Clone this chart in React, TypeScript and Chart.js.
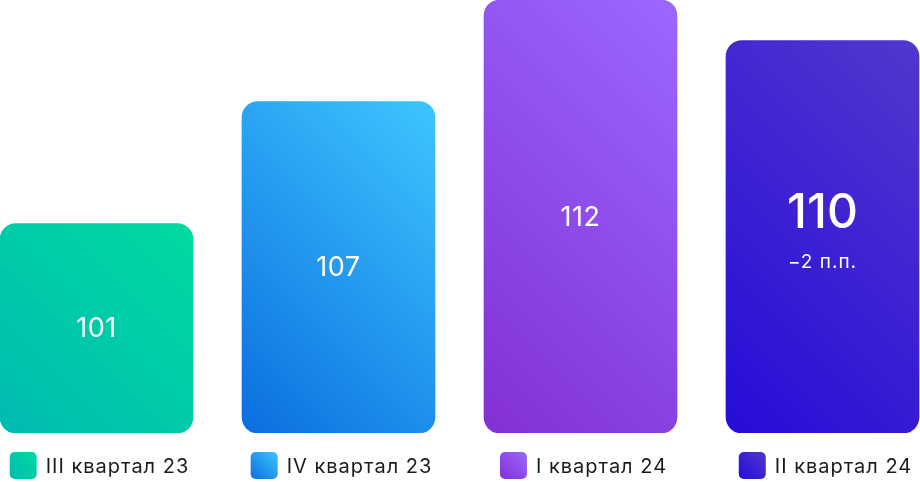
import React, { useEffect, useRef } from "react";
import { Chart, registerables } from "chart.js";

Chart.register(...registerables);

const categories = ["III квартал 23", "IV квартал 23", "I квартал 24", "II квартал 24"];
const values = [101, 107, 112, 110];
const notes = ["", "", "", "−2 п.п."];
const highlight = [false, false, false, true];
const gradientStops: [string, string][] = [
  ["#00BBB1", "#00DAA0"],
  ["#0B6EDF", "#3EC6FF"],
  ["#8230D5", "#9B68FF"],
  ["#260CD7", "#5137CD"],
];

const FONT = "Inter, 'Noto Sans', sans-serif";
const BAR_W = 193;
const STEP = 242;
const Y_MIN = 90.7;
const Y_MAX = 112;

// 45° gradient (bottom-left dark -> top-right light) across a box
function makeGrad(ctx: CanvasRenderingContext2D, left: number, top: number, w: number, h: number, i: number) {
  const cx = left + w / 2;
  const cy = top + h / 2;
  const d = (w + h) / 4;
  const g = ctx.createLinearGradient(cx - d, cy + d, cx + d, cy - d);
  g.addColorStop(0, gradientStops[i][0]);
  g.addColorStop(1, gradientStops[i][1]);
  return g;
}

const labelsPlugin = {
  id: "barLabels",
  afterDatasetsDraw(chart: any) {
    const ctx = chart.ctx as CanvasRenderingContext2D;
    const meta = chart.getDatasetMeta(0);
    ctx.save();
    ctx.fillStyle = "#ffffff";
    ctx.textAlign = "center";
    ctx.textBaseline = "middle";
    meta.data.forEach((el: any, i: number) => {
      const cx = el.x;
      const cy = (el.y + el.base) / 2;
      if (highlight[i]) {
        (ctx as any).letterSpacing = "0px";
        ctx.font = `500 48px ${FONT}`;
        ctx.fillText(String(values[i]), cx, cy - 23);
        (ctx as any).letterSpacing = "1px";
        ctx.font = `400 19px ${FONT}`;
        ctx.fillText(notes[i], cx, cy + 25);
      } else {
        (ctx as any).letterSpacing = "0.5px";
        ctx.font = `400 27px ${FONT}`;
        ctx.fillText(String(values[i]), cx, cy + 1);
      }
    });
    ctx.restore();
  },
};

const legendPlugin = {
  id: "customLegend",
  afterDraw(chart: any) {
    const ctx = chart.ctx as CanvasRenderingContext2D;
    const xs = chart.scales.x;
    const sq = 27;
    const gap = 9;
    const top = 452;
    ctx.save();
    ctx.font = `400 20px ${FONT}`;
    (ctx as any).letterSpacing = "1px";
    ctx.textBaseline = "middle";
    ctx.textAlign = "left";
    categories.forEach((c, i) => {
      const cx = xs.getPixelForValue(i) + 3;
      const tw = ctx.measureText(c).width;
      const total = sq + gap + tw;
      const left = cx - total / 2;
      ctx.fillStyle = makeGrad(ctx, left, top, sq, sq, i);
      ctx.beginPath();
      (ctx as any).roundRect(left, top, sq, sq, 5);
      ctx.fill();
      ctx.fillStyle = "#1b1b1f";
      ctx.fillText(c, left + sq + gap, top + sq / 2 + 1);
    });
    ctx.restore();
  },
};

export default function App() {
  const ref = useRef<HTMLCanvasElement>(null);
  useEffect(() => {
    document.body.style.margin = "0";
    const canvas = ref.current!;
    const chart = new Chart(canvas, {
      type: "bar",
      data: {
        datasets: [
          {
            data: values.map((v, i) => ({ x: i, y: v })),
            base: Y_MIN,
            barThickness: BAR_W,
            borderRadius: 16,
            borderSkipped: false,
            backgroundColor: (c: any) => {
              const ch = c.chart;
              const xs = ch.scales.x;
              const ys = ch.scales.y;
              const i = c.dataIndex ?? 0;
              if (!xs || !ys || !ch.chartArea) return gradientStops[i][0];
              const cx = xs.getPixelForValue(i);
              const top = ys.getPixelForValue(values[i]);
              const bottom = ys.getPixelForValue(Y_MIN);
              return makeGrad(ch.ctx, cx - BAR_W / 2, top, BAR_W, bottom - top, i);
            },
          } as any,
        ],
      },
      options: {
        animation: false,
        responsive: false,
        layout: { padding: { top: 0, left: 0, right: 0, bottom: 49 } },
        plugins: { legend: { display: false }, tooltip: { enabled: false } },
        scales: {
          x: {
            type: "linear",
            display: false,
            offset: false,
            min: -(BAR_W / 2) / STEP,
            max: (920 - BAR_W / 2) / STEP,
          },
          y: { display: false, min: Y_MIN, max: Y_MAX },
        },
      },
      plugins: [labelsPlugin, legendPlugin],
    });
    return () => chart.destroy();
  }, []);
  return (
    <div style={{ width: 920, height: 482 }}>
      <canvas ref={ref} width={920} height={482} style={{ display: "block" }} />
    </div>
  );
}
